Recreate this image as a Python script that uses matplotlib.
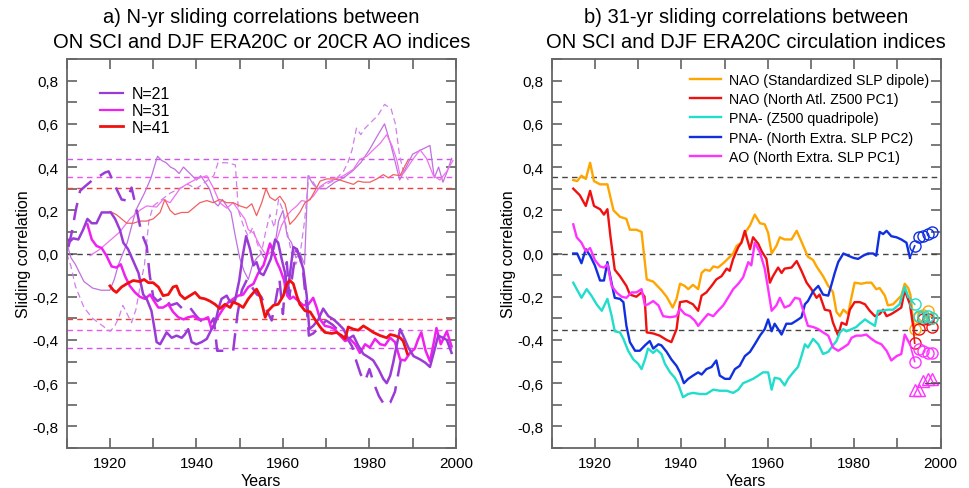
import numpy as np
import matplotlib
matplotlib.use("Agg")
import matplotlib.pyplot as plt
from matplotlib.ticker import MultipleLocator, FuncFormatter
from matplotlib.lines import Line2D

plt.rcParams['font.family'] = ['Liberation Sans', 'DejaVu Sans']

# ---------------- panel a) data (years, correlation) ----------------
n21_era_yr = [1910.0, 1910.7, 1911.5, 1912.7, 1913.8, 1914.8, 1915.8, 1916.9, 1918.1, 1919.2, 1920.2, 1921.2,
              1922.3, 1923.1, 1924.2, 1925.4, 1926.6, 1927.7, 1928.5, 1929.6, 1930.2, 1930.8, 1931.6, 1932.3,
              1933.1, 1934.3, 1935.4, 1936.6, 1937.3, 1938.1, 1938.9, 1940.0, 1941.2, 1942.4, 1943.5, 1944.3,
              1945.1, 1945.8, 1947.0, 1947.8, 1948.9, 1949.9, 1950.7, 1951.5, 1952.4, 1953.2, 1953.9, 1954.7,
              1955.5, 1956.2, 1957.2, 1958.2, 1958.9, 1959.7, 1960.5, 1961.0, 1961.6, 1962.4, 1963.2, 1963.9,
              1964.7, 1965.5, 1966.1, 1967.0, 1968.2, 1969.3, 1970.5, 1971.7, 1972.8, 1974.0, 1975.1, 1976.3,
              1977.4, 1978.6, 1979.8, 1980.9, 1982.1, 1983.2, 1984.0, 1984.8, 1985.5, 1986.3, 1987.1, 1987.8,
              1989.0, 1990.2, 1991.7, 1992.9, 1994.0, 1995.0, 1995.9, 1997.0, 1997.9, 1999.0]
n21_era = [0.07, 0.055, 0.07, 0.065, 0.11, 0.16, 0.14, 0.14, 0.19, 0.19, 0.19, 0.16,
           0.11, 0.05, 0.02, -0.035, -0.09, -0.19, -0.21, -0.265, -0.335, -0.41, -0.42, -0.395,
           -0.365, -0.39, -0.38, -0.39, -0.375, -0.35, -0.41, -0.42, -0.41, -0.395, -0.35, -0.325,
           -0.255, -0.21, -0.195, -0.225, -0.22, -0.125, -0.01, 0.08, 0.02, -0.055, -0.04, -0.09,
           -0.1, -0.07, -0.025, 0.065, 0.05, -0.025, -0.09, -0.18, -0.1, 0.03, 0.02, -0.02,
           -0.07, -0.195, -0.35, -0.335, -0.305, -0.255, -0.29, -0.305, -0.325, -0.35, -0.395, -0.38,
           -0.425, -0.465, -0.48, -0.495, -0.535, -0.58, -0.6, -0.565, -0.505, -0.425, -0.35, -0.38,
           -0.435, -0.475, -0.49, -0.505, -0.525, -0.45, -0.38, -0.39, -0.40, -0.46]

n21_20cr_yr = [1910.4, 1911.2, 1912.1, 1913.1, 1914.2, 1915.4, 1916.5, 1917.7, 1918.9, 1919.7, 1921.5, 1922.7,
               1923.9, 1925.0, 1926.2, 1927.3, 1928.5, 1929.2, 1930.0, 1931.0, 1932.5, 1934.0, 1935.5, 1937.0,
               1938.5, 1940.0, 1941.5, 1943.0, 1944.0, 1944.8, 1946.5, 1948.5, 1949.5, 1950.5, 1951.7, 1953.0,
               1954.0, 1955.0, 1956.2, 1957.4, 1958.3, 1959.2, 1960.0, 1960.9, 1961.5, 1962.4, 1963.2, 1964.0,
               1964.7, 1965.5, 1966.0, 1967.0, 1968.5, 1970.0, 1971.5, 1973.0, 1974.5, 1976.0, 1977.0, 1978.0,
               1979.0, 1980.0, 1981.0, 1982.2, 1983.6, 1984.8, 1985.9, 1987.0, 1987.8]
n21_20cr = [0.03, 0.1, 0.2, 0.29, 0.31, 0.33, 0.35, 0.36, 0.375, 0.38, 0.30, 0.25,
            0.245, 0.305, 0.2, 0.095, 0.035, -0.1, -0.2, -0.22, -0.2, -0.24, -0.23, -0.26,
            -0.25, -0.29, -0.32, -0.33, -0.30, -0.45, -0.45, -0.45, -0.28, -0.17, -0.12, -0.16,
            -0.19, -0.2, -0.26, -0.31, -0.22, -0.12, -0.28, -0.04, -0.2, -0.07, 0.02, -0.02,
            -0.09, -0.25, -0.38, -0.37, -0.34, -0.31, -0.33, -0.36, -0.38, -0.43, -0.5, -0.56,
            -0.59, -0.535, -0.6, -0.66, -0.705, -0.69, -0.64, -0.52, -0.44]

n31_era_yr = [1914.8, 1915.8, 1916.9, 1918.1, 1919.2, 1920.4, 1921.5, 1922.5, 1923.5, 1924.6, 1925.8, 1926.9,
              1928.1, 1929.3, 1930.2, 1931.2, 1932.3, 1933.5, 1934.6, 1935.8, 1937.0, 1938.1, 1939.3, 1940.4,
              1941.6, 1942.7, 1943.5, 1944.3, 1945.1, 1946.2, 1947.4, 1948.5, 1949.7, 1950.8, 1952.0, 1953.2,
              1954.3, 1955.5, 1956.2, 1957.0, 1957.8, 1958.6, 1959.3, 1960.2, 1961.0, 1961.6, 1962.4, 1963.6,
              1964.7, 1965.9, 1967.0, 1967.8, 1968.6, 1969.7, 1970.9, 1972.0, 1973.2, 1974.4, 1975.5, 1976.7,
              1977.8, 1979.0, 1980.1, 1981.3, 1982.5, 1983.6, 1984.8, 1985.9, 1987.1, 1988.2, 1989.4, 1990.5,
              1991.2, 1992.0, 1993.0, 1994.0, 1995.0, 1995.5, 1996.5, 1997.9, 1999.0]
n31_era = [0.135, 0.065, 0.035, 0.025, -0.01, -0.06, -0.065, -0.05, -0.105, -0.15, -0.18, -0.2,
           -0.21, -0.19, -0.22, -0.25, -0.25, -0.235, -0.27, -0.295, -0.305, -0.295, -0.29, -0.305,
           -0.305, -0.295, -0.35, -0.32, -0.29, -0.255, -0.225, -0.21, -0.195, -0.19, -0.155, -0.14,
           -0.09, -0.055, -0.01, 0.045, 0.005, -0.04, -0.07, -0.12, -0.195, -0.21, -0.2, -0.22,
           -0.24, -0.235, -0.205, -0.25, -0.305, -0.335, -0.34, -0.35, -0.38, -0.405, -0.395, -0.42,
           -0.46, -0.42, -0.435, -0.395, -0.42, -0.425, -0.39, -0.41, -0.49, -0.495, -0.46, -0.44,
           -0.4, -0.365, -0.45, -0.5, -0.4, -0.345, -0.42, -0.36, -0.43]

n41_era_yr = [1920.0, 1920.8, 1921.5, 1922.7, 1923.9, 1925.4, 1926.9, 1927.9, 1928.9, 1930.0, 1931.2, 1932.3,
              1933.5, 1934.6, 1935.4, 1936.2, 1937.3, 1938.5, 1939.7, 1940.8, 1942.0, 1943.1, 1944.3, 1945.4,
              1946.6, 1947.8, 1948.5, 1949.7, 1950.8, 1952.0, 1952.8, 1953.9, 1954.7, 1955.9, 1956.6, 1957.8,
              1958.9, 1960.1, 1960.9, 1961.6, 1962.4, 1963.2, 1963.9, 1965.1, 1966.3, 1967.4, 1968.6, 1969.7,
              1971.3, 1972.4, 1973.6, 1974.4, 1975.1, 1976.3, 1977.4, 1978.6, 1979.8, 1980.9, 1982.5, 1984.0,
              1984.8, 1985.9, 1987.1, 1987.8, 1988.8]
n41_era = [-0.15, -0.17, -0.18, -0.155, -0.14, -0.125, -0.13, -0.12, -0.135, -0.135, -0.155, -0.195,
           -0.19, -0.155, -0.15, -0.19, -0.21, -0.195, -0.18, -0.205, -0.21, -0.22, -0.235, -0.255,
           -0.235, -0.25, -0.225, -0.235, -0.25, -0.21, -0.19, -0.165, -0.195, -0.295, -0.265, -0.24,
           -0.235, -0.195, -0.14, -0.125, -0.14, -0.195, -0.235, -0.265, -0.27, -0.305, -0.34, -0.365,
           -0.37, -0.365, -0.38, -0.395, -0.34, -0.35, -0.355, -0.335, -0.35, -0.365, -0.38, -0.39,
           -0.375, -0.38, -0.39, -0.405, -0.465]

# thin lines (opposite-signed curves)
n21_thin_yr = [1910, 1911, 1912, 1914, 1916, 1918, 1920, 1921, 1922, 1924, 1926, 1928, 1929.5, 1931, 1932, 1933,
               1934, 1935, 1936, 1937, 1938, 1939, 1940, 1941, 1942, 1943, 1944, 1945, 1946, 1947, 1948, 1949,
               1950, 1951, 1952, 1953, 1954, 1955, 1956, 1957, 1958, 1959, 1960, 1961, 1962, 1963, 1964, 1965,
               1965.8, 1967, 1968, 1970, 1972, 1974, 1976, 1978, 1980, 1982, 1983.5, 1985, 1986, 1987, 1988,
               1990, 1992, 1994, 1995, 1996, 1997, 1998, 1999]
n21_thin = [0.05, -0.02, -0.05, -0.13, -0.16, -0.17, -0.17, -0.12, -0.05, 0.05, 0.2, 0.28, 0.35, 0.45, 0.43, 0.42,
            0.40, 0.39, 0.37, 0.40, 0.38, 0.36, 0.34, 0.36, 0.33, 0.30, 0.24, 0.22, 0.25, 0.22, 0.19, 0.08,
            -0.02, -0.08, -0.12, -0.05, -0.02, 0.0, -0.03, 0.05, 0.02, 0.15, 0.2, 0.08, 0.05, -0.02, 0.0, -0.05,
            0.36, 0.32, 0.30, 0.30, 0.33, 0.35, 0.38, 0.42, 0.48, 0.55, 0.60, 0.50, 0.42, 0.34, 0.38,
            0.46, 0.48, 0.50, 0.35, 0.40, 0.33, 0.38, 0.44]

n21_thin_d_yr = [1910, 1911, 1912, 1913, 1914, 1916, 1918, 1920, 1921, 1922, 1923, 1924, 1925, 1926, 1927, 1928,
                 1929, 1930, 1932, 1934, 1936, 1938, 1940, 1942, 1944, 1945, 1947, 1949, 1949.7, 1951, 1952, 1953,
                 1954, 1955, 1956, 1957, 1958, 1959, 1960, 1961, 1962, 1963, 1964, 1965, 1966, 1968, 1970, 1972,
                 1974, 1975, 1976, 1977, 1978, 1979, 1980, 1982, 1983.5, 1985, 1986, 1987, 1988, 1989]
n21_thin_d = [0.0, -0.06, -0.15, -0.2, -0.25, -0.3, -0.33, -0.36, -0.34, -0.3, -0.24, -0.28, -0.32, -0.26, -0.15, -0.05,
              0.15, 0.22, 0.25, 0.28, 0.30, 0.32, 0.30, 0.33, 0.36, 0.42, 0.42, 0.41, 0.2, 0.12, 0.08, 0.12,
              0.05, 0.0, 0.1, 0.18, 0.12, 0.25, 0.2, 0.1, 0.0, -0.05, 0.0, 0.15, 0.36, 0.30, 0.32, 0.34,
              0.38, 0.42, 0.48, 0.58, 0.55, 0.58, 0.60, 0.64, 0.69, 0.67, 0.60, 0.45, 0.37, 0.34]

n31_thin_yr = [1915.4, 1917.7, 1920.0, 1922.3, 1924.6, 1926.9, 1928.5, 1930.8, 1932.3, 1933.9, 1936.2, 1937.7,
               1940.0, 1942.4, 1943.9, 1945.4, 1947.0, 1948.5, 1950.1, 1951.2, 1952.0, 1953.2, 1954.7, 1956.2,
               1957.4, 1958.6, 1959.7, 1960.9, 1962.0, 1963.2, 1964.3, 1965.5, 1967.0, 1968.6, 1970.1, 1971.7,
               1974.0, 1976.3, 1977.8, 1979.4, 1980.9, 1982.5, 1984.0, 1985.2, 1986.3, 1987.1, 1988.2, 1990.2,
               1991.7, 1993.2, 1994.8, 1996.3, 1997.9, 1999.3]
n31_thin = [-0.01, 0.02, 0.06, 0.1, 0.16, 0.2, 0.22, 0.215, 0.25, 0.235, 0.3, 0.32,
            0.345, 0.36, 0.305, 0.235, 0.21, 0.235, 0.19, 0.16, 0.11, 0.095, 0.035, -0.01,
            0.01, 0.065, 0.13, 0.175, 0.2, 0.22, 0.245, 0.24, 0.265, 0.31, 0.33, 0.34,
            0.36, 0.39, 0.435, 0.45, 0.48, 0.51, 0.55, 0.5, 0.435, 0.36, 0.38, 0.44,
            0.48, 0.44, 0.36, 0.34, 0.38, 0.43]

n41_thin_yr = [1920.0, 1921.5, 1922.7, 1923.9, 1925.4, 1926.9, 1928.5, 1930.0, 1931.6, 1932.7, 1933.9, 1935.0,
               1936.6, 1938.1, 1939.3, 1940.8, 1942.4, 1943.9, 1945.4, 1947.0, 1948.5, 1950.1, 1951.6, 1952.8,
               1953.9, 1955.1, 1956.1, 1957.0, 1958.2, 1959.3, 1960.5, 1961.6, 1962.8, 1963.9, 1965.1, 1966.3,
               1967.4, 1968.6, 1970.1, 1971.7, 1973.2, 1974.7, 1976.3, 1977.4, 1978.6, 1980.1, 1981.7, 1983.2,
               1984.4, 1985.5, 1987.1, 1988.2, 1989.0]
n41_thin = [0.195, 0.18, 0.16, 0.14, 0.14, 0.15, 0.15, 0.16, 0.19, 0.25, 0.2, 0.18,
            0.19, 0.19, 0.21, 0.235, 0.245, 0.235, 0.25, 0.235, 0.235, 0.22, 0.21, 0.23,
            0.175, 0.235, 0.3, 0.26, 0.245, 0.265, 0.23, 0.135, 0.16, 0.19, 0.235, 0.25,
            0.29, 0.335, 0.345, 0.345, 0.34, 0.33, 0.32, 0.335, 0.33, 0.33, 0.345, 0.365,
            0.35, 0.365, 0.36, 0.405, 0.435]

# significance levels for N=21, 31, 41
sig_levels = [0.435, 0.355, 0.305]

# ---------------- panel b) data ----------------
nao_slp_yr = [1915.0, 1915.9, 1916.9, 1917.9, 1918.9, 1919.8, 1921.2, 1922.9, 1924.3, 1925.8, 1927.3, 1928.1,
              1929.6, 1930.8, 1932.0, 1933.5, 1935.4, 1936.6, 1938.0, 1938.9, 1939.7, 1940.8, 1941.6, 1942.7,
              1943.9, 1944.7, 1945.5, 1946.6, 1947.4, 1948.5, 1949.7, 1950.5, 1952.0, 1952.8, 1953.9, 1954.7,
              1955.9, 1957.0, 1958.2, 1959.3, 1960.1, 1960.9, 1962.0, 1962.8, 1963.9, 1965.5, 1966.7, 1967.8,
              1969.3, 1970.5, 1971.3, 1972.8, 1974.0, 1974.8, 1975.1, 1975.9, 1976.7, 1977.5, 1978.6, 1979.4,
              1980.1, 1981.7, 1982.8, 1984.0, 1985.1, 1985.9, 1987.1, 1987.8, 1989.0, 1990.2, 1990.9, 1991.7,
              1992.5, 1993.0, 1993.4]
nao_slp = [0.34, 0.335, 0.36, 0.345, 0.42, 0.335, 0.32, 0.32, 0.2, 0.17, 0.16, 0.11,
           0.11, 0.1, -0.12, -0.13, -0.17, -0.2, -0.25, -0.21, -0.14, -0.15, -0.165, -0.145,
           -0.165, -0.09, -0.075, -0.08, -0.06, -0.065, -0.045, -0.03, 0.0, 0.035, 0.05, 0.095,
           0.13, 0.18, 0.14, 0.135, 0.095, 0.0, 0.035, 0.075, 0.065, 0.065, 0.105, 0.055,
           -0.015, -0.03, -0.06, -0.105, -0.15, -0.17, -0.18, -0.27, -0.29, -0.26, -0.28, -0.2,
           -0.135, -0.14, -0.135, -0.135, -0.165, -0.16, -0.195, -0.24, -0.235, -0.21, -0.195, -0.14,
           -0.16, -0.19, -0.26]

nao_z500_yr = [1915.0, 1916.5, 1917.9, 1918.9, 1919.8, 1921.2, 1922.1, 1922.9, 1923.6, 1924.6, 1925.8, 1927.3,
               1928.1, 1929.6, 1930.8, 1931.5, 1932.0, 1933.5, 1935.0, 1936.6, 1937.7, 1938.9, 1939.7, 1941.2,
               1942.7, 1943.9, 1944.7, 1945.8, 1947.0, 1948.1, 1949.3, 1950.5, 1951.2, 1952.0, 1953.2, 1953.9,
               1954.7, 1955.9, 1956.6, 1957.8, 1958.6, 1959.7, 1960.5, 1961.2, 1962.4, 1963.2, 1963.9, 1965.5,
               1966.7, 1967.8, 1969.0, 1970.1, 1971.3, 1972.0, 1973.2, 1974.4, 1975.1, 1976.3, 1977.1, 1978.2,
               1979.0, 1980.1, 1981.3, 1982.5, 1983.6, 1984.8, 1985.9, 1986.7, 1987.5, 1988.6, 1989.8, 1990.9,
               1991.7, 1992.9, 1993.6]
nao_z500 = [0.30, 0.27, 0.22, 0.29, 0.22, 0.205, 0.18, 0.205, 0.08, -0.075, -0.105, -0.15,
            -0.19, -0.2, -0.18, -0.2, -0.365, -0.37, -0.38, -0.40, -0.41, -0.35, -0.225, -0.22,
            -0.235, -0.265, -0.195, -0.18, -0.15, -0.12, -0.105, -0.07, -0.08, -0.025, 0.03, 0.05,
            0.105, 0.02, 0.075, 0.045, 0.01, -0.025, -0.135, -0.105, -0.065, -0.09, -0.07, -0.065,
            -0.035, -0.08, -0.135, -0.165, -0.205, -0.19, -0.26, -0.265, -0.32, -0.38, -0.32, -0.33,
            -0.26, -0.225, -0.225, -0.235, -0.265, -0.29, -0.28, -0.26, -0.29, -0.28, -0.265, -0.25,
            -0.17, -0.235, -0.33]

pna_z500_yr = [1915.0, 1915.8, 1916.9, 1918.1, 1919.2, 1920.4, 1921.6, 1922.9, 1923.9, 1924.6, 1925.8, 1926.6,
               1927.7, 1928.9, 1930.0, 1930.8, 1931.6, 1932.3, 1933.5, 1934.3, 1935.4, 1936.2, 1937.4, 1938.5,
               1939.3, 1940.4, 1941.6, 1942.7, 1944.3, 1945.8, 1947.4, 1948.9, 1950.5, 1952.0, 1953.2, 1954.3,
               1955.5, 1956.6, 1957.8, 1958.9, 1960.1, 1960.9, 1961.6, 1962.8, 1963.9, 1964.7, 1965.9, 1967.0,
               1967.8, 1968.6, 1969.3, 1970.5, 1971.7, 1972.8, 1974.0, 1975.1, 1975.9, 1976.7, 1977.5, 1978.2,
               1979.4, 1980.5, 1981.3, 1982.5, 1983.6, 1984.8, 1985.5, 1986.7, 1987.8, 1989.0, 1990.5, 1991.7,
               1992.5]
pna_z500 = [-0.135, -0.165, -0.205, -0.165, -0.195, -0.235, -0.265, -0.21, -0.29, -0.36,
            -0.365, -0.395, -0.45, -0.49, -0.51, -0.535, -0.49, -0.44, -0.46, -0.445,
            -0.465, -0.51, -0.55, -0.575, -0.605, -0.665, -0.65, -0.645, -0.65, -0.65,
            -0.63, -0.635, -0.635, -0.645, -0.63, -0.6, -0.59, -0.58, -0.565, -0.55,
            -0.55, -0.63, -0.575, -0.58, -0.61, -0.58, -0.55, -0.525, -0.475, -0.42,
            -0.435, -0.395, -0.42, -0.465, -0.455, -0.425, -0.405, -0.365, -0.35, -0.36,
            -0.35, -0.34, -0.325, -0.305, -0.32, -0.335, -0.265, -0.265, -0.26, -0.26,
            -0.235, -0.155, -0.2]

pna_slp_yr = [1915.0, 1915.9, 1916.9, 1917.9, 1918.9, 1920.0, 1921.2, 1922.1, 1922.9, 1923.9, 1924.6, 1925.8,
              1926.6, 1927.3, 1928.1, 1929.3, 1930.4, 1931.6, 1932.7, 1933.5, 1934.7, 1935.4, 1936.6, 1937.7,
              1938.9, 1939.7, 1940.6, 1941.6, 1942.7, 1943.9, 1944.7, 1945.8, 1947.0, 1948.1, 1948.9, 1950.1,
              1951.2, 1952.4, 1953.5, 1954.7, 1955.9, 1957.0, 1958.2, 1959.3, 1960.1, 1960.9, 1961.6, 1962.4,
              1963.2, 1964.3, 1965.5, 1966.7, 1967.8, 1968.6, 1969.3, 1970.5, 1971.7, 1972.8, 1974.0, 1974.8,
              1975.5, 1976.3, 1977.5, 1978.6, 1979.8, 1980.9, 1982.1, 1983.2, 1984.4, 1985.1, 1985.9, 1986.7,
              1987.5, 1988.6, 1989.8, 1990.9, 1992.1, 1992.9]
pna_slp = [0.0, 0.0, -0.045, 0.02, -0.01, -0.055, -0.125, -0.125, -0.04, -0.14,
           -0.205, -0.21, -0.225, -0.335, -0.41, -0.45, -0.45, -0.425, -0.405, -0.44,
           -0.42, -0.425, -0.455, -0.49, -0.52, -0.55, -0.6, -0.58, -0.565, -0.55,
           -0.56, -0.535, -0.525, -0.495, -0.565, -0.58, -0.58, -0.535, -0.52, -0.475,
           -0.455, -0.42, -0.38, -0.35, -0.305, -0.36, -0.325, -0.35, -0.375, -0.325,
           -0.325, -0.31, -0.295, -0.235, -0.22, -0.175, -0.15, -0.19, -0.195, -0.14,
           -0.09, -0.04, 0.0, -0.01, -0.02, -0.025, -0.01, 0.0, 0.0, -0.01,
           0.1, 0.09, 0.105, 0.08, 0.075, 0.065, 0.05, -0.02]

ao_slp_yr = [1915.0, 1915.8, 1916.9, 1917.9, 1918.9, 1920.0, 1921.2, 1922.1, 1922.9, 1923.9, 1925.0, 1926.2,
             1927.3, 1928.5, 1929.6, 1930.8, 1931.6, 1932.3, 1933.5, 1934.7, 1935.8, 1937.4, 1938.9, 1939.7,
             1940.8, 1942.0, 1943.1, 1943.9, 1945.1, 1946.2, 1947.4, 1948.5, 1949.7, 1950.8, 1952.0, 1953.2,
             1954.3, 1955.5, 1956.2, 1957.0, 1958.2, 1959.3, 1960.1, 1960.9, 1962.0, 1962.8, 1963.9, 1965.1,
             1966.3, 1967.4, 1968.6, 1969.3, 1970.5, 1971.7, 1972.8, 1974.0, 1975.1, 1976.3, 1977.5, 1978.6,
             1979.4, 1980.5, 1981.7, 1982.8, 1984.0, 1985.1, 1986.3, 1987.5, 1988.6, 1989.8, 1990.9, 1991.7,
             1992.9]
ao_slp = [0.135, 0.075, 0.05, 0.01, 0.025, -0.03, -0.06, -0.065, -0.05, -0.15,
          -0.18, -0.2, -0.205, -0.18, -0.18, -0.165, -0.24, -0.235, -0.22, -0.24,
          -0.29, -0.295, -0.29, -0.255, -0.28, -0.29, -0.31, -0.335, -0.305, -0.28,
          -0.29, -0.265, -0.24, -0.205, -0.165, -0.14, -0.11, -0.04, -0.055, 0.05,
          0.005, -0.07, -0.165, -0.265, -0.24, -0.205, -0.25, -0.24, -0.205, -0.21,
          -0.29, -0.335, -0.34, -0.35, -0.365, -0.38, -0.435, -0.45, -0.435, -0.42,
          -0.39, -0.38, -0.38, -0.375, -0.395, -0.41, -0.42, -0.45, -0.495, -0.475,
          -0.465, -0.375, -0.42]

# last years (incomplete windows) shown as symbols
end_yr = [1994, 1995, 1996, 1997, 1998]
nao_slp_end = [-0.35, -0.295, -0.285, -0.265, -0.30]
nao_z500_end = [-0.415, -0.35, -0.305, -0.305, -0.34]
pna_z500_end = [-0.235, -0.29, -0.295, -0.29, -0.30]
pna_slp_end = [0.035, 0.075, 0.08, 0.09, 0.1]
ao_slp_end = [-0.50, -0.44, -0.45, -0.46, -0.46]
ao_tri_end = [-0.63, -0.63, -0.59, -0.58, -0.58]

sig_b = 0.355

PURPLE = '#9B3BD6'
MAGENTA = '#F020F0'
RED = '#F01010'
ORANGE = '#FFA500'
CYAN = '#20DDCC'
BLUE = '#1030E0'
PINK = '#FF33FF'


def comma_fmt(v, pos):
    return ('%.1f' % v).replace('.', ',').replace('-0,0', '0,0')


def style_axes(ax):
    ax.set_xlim(1910, 2000)
    ax.set_ylim(-0.9, 0.9)
    ax.xaxis.set_major_locator(MultipleLocator(20))
    ax.xaxis.set_minor_locator(MultipleLocator(10))
    ax.yaxis.set_major_locator(MultipleLocator(0.2))
    ax.yaxis.set_minor_locator(MultipleLocator(0.1))
    ax.yaxis.set_major_formatter(FuncFormatter(comma_fmt))
    ax.tick_params(which='both', direction='in', top=True, right=True, color='#555555', width=1.1)
    ax.tick_params(which='major', length=7, labelsize=11, pad=6)
    ax.tick_params(which='minor', length=7)
    for s in ax.spines.values():
        s.set_color('#666666')
        s.set_linewidth(1.3)
    ax.set_xlabel('Years', fontsize=11.5, labelpad=2)
    ax.set_ylabel('Sliding correlation', fontsize=11.5, labelpad=1)


fig = plt.figure(figsize=(9.69, 4.89), dpi=100)
ax1 = fig.add_axes([0.0688, 0.0818, 0.4017, 0.7955])
ax2 = fig.add_axes([0.5693, 0.0818, 0.4014, 0.7955])

# ---- panel a ----
ax1.axhline(0, color='#444444', lw=1.0, dashes=(4, 3))
for lev, c in zip(sig_levels, ['#CC55EE', '#EE55EE', '#EE4040']):
    ax1.axhline(lev, color=c, lw=1.0, dashes=(4, 3))
    ax1.axhline(-lev, color=c, lw=1.0, dashes=(4, 3))

ax1.plot(n21_thin_yr, n21_thin, color='#C070E0', lw=0.9)
ax1.plot(n21_thin_d_yr, n21_thin_d, color='#D080E8', lw=0.9, dashes=(5, 3))
ax1.plot(n31_thin_yr, n31_thin, color='#F070F0', lw=0.9)
ax1.plot(n41_thin_yr, n41_thin, color='#F06060', lw=0.9)

ax1.plot(n21_20cr_yr, n21_20cr, color=PURPLE, lw=1.8, dashes=(7, 4))
ax1.plot(n31_era_yr, n31_era, color=MAGENTA, lw=1.8)
ax1.plot(n21_era_yr, n21_era, color=PURPLE, lw=1.8)
ax1.plot(n41_era_yr, n41_era, color=RED, lw=2.0)

style_axes(ax1)
leg1 = [Line2D([], [], color=PURPLE, lw=1.6), Line2D([], [], color=MAGENTA, lw=1.6),
        Line2D([], [], color=RED, lw=2.0)]
ax1.legend(leg1, ['N=21', 'N=31', 'N=41'], loc='upper left', bbox_to_anchor=(0.085, 0.93),
           frameon=False, fontsize=11.5, handlelength=1.45, handletextpad=0.55, labelspacing=0.12,
           borderaxespad=0, borderpad=0)
ax1.set_title('a) N-yr sliding correlations between\nON SCI and DJF ERA20C or 20CR AO indices',
              fontsize=14.5, linespacing=1.35, pad=9)

# ---- panel b ----
ax2.axhline(0, color='#444444', lw=1.0, dashes=(4, 3))
ax2.axhline(sig_b, color='#444444', lw=1.0, dashes=(4, 3))
ax2.axhline(-sig_b, color='#444444', lw=1.0, dashes=(4, 3))

series_b = [(nao_slp_yr, nao_slp, nao_slp_end, ORANGE, 'NAO (Standardized SLP dipole)'),
            (nao_z500_yr, nao_z500, nao_z500_end, RED, 'NAO (North Atl. Z500 PC1)'),
            (pna_z500_yr, pna_z500, pna_z500_end, CYAN, 'PNA- (Z500 quadripole)'),
            (pna_slp_yr, pna_slp, pna_slp_end, BLUE, 'PNA- (North Extra. SLP PC2)'),
            (ao_slp_yr, ao_slp, ao_slp_end, PINK, 'AO (North Extra. SLP PC1)')]
for yr, vals, end, c, lab in series_b:
    ax2.plot(yr, vals, color=c, lw=1.7, label=lab)
    ax2.plot([yr[-1], end_yr[0]], [vals[-1], end[0]], color=c, lw=1.2)
    ax2.plot(end_yr, end, ls='none', marker='o', ms=8, mfc='none', mec=c, mew=1.0)
ax2.plot(end_yr, ao_tri_end, ls='none', marker='^', ms=8, mfc='none', mec=PINK, mew=1.0)
ax2.plot([1996.5, 2000], [-0.6, -0.6], color='#555555', lw=1.0)

style_axes(ax2)
ax2.legend(loc='upper left', bbox_to_anchor=(0.355, 0.965), frameon=False, fontsize=10.2,
           handlelength=2.2, handletextpad=0.55, labelspacing=0.38, borderaxespad=0, borderpad=0)
ax2.set_title('b) 31-yr sliding correlations between\nON SCI and DJF ERA20C circulation indices',
              fontsize=14.5, linespacing=1.35, pad=9)

fig.savefig('out.png', dpi=100)
